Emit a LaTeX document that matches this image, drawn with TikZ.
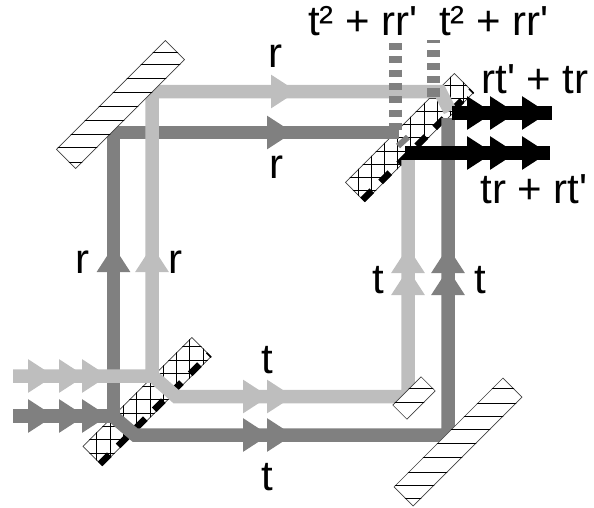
\documentclass[tikz,border=0pt]{standalone}
\usepackage{fontspec}
\newfontfamily\labelfont{Liberation Sans}
\usetikzlibrary{shapes.geometric, positioning}
\definecolor{lightbeam}{HTML}{BEBEBE}
\definecolor{darkbeam}{HTML}{808080}

\begin{document}
\begin{tikzpicture}[
    x=1pt, y=-1pt,
    plate/.style={rectangle, rotate=45, inner sep=0pt, minimum width=154pt, minimum height=27pt, draw=black!75, line width=0.6pt, fill=white},
    beam/.style={line width=13.5pt, line join=miter},
    lightray/.style={beam, draw=lightbeam},
    darkray/.style={beam, draw=darkbeam},
    blackray/.style={beam, draw=black},
    tip/.style={isosceles triangle, isosceles triangle apex angle=66, minimum height=26pt, inner sep=0pt, outer sep=0pt, anchor=lower side},
    hatch/.style={black, line width=0.8pt},
    halfsilver/.style={black, line width=6.5pt, dash pattern=on 13pt off 12.5pt},
    outbeam/.style={line width=13pt, draw=darkbeam, dash pattern=on 7pt off 6.3pt},
    lab/.style={font=\labelfont\fontsize{42}{45}\selectfont, inner sep=0pt, anchor=base}
]
\useasboundingbox (0,0) rectangle (594,507);

% Beam splitters
\node (splitin) [plate] at (147,401.5) {};
\node (splitout) [plate] at (409.5,137.5) {};
\begin{scope}
    \clip (splitin.north west) -- (splitin.north east) -- (splitin.south east) -- (splitin.south west) -- cycle;
    \foreach \i in {0,...,10} {
        \draw [hatch] (96.7+13.3*\i,330) -- (96.7+13.3*\i,470);
        \draw [hatch] (80,453-13.3*\i) -- (215,453-13.3*\i);
    }
\end{scope}
\begin{scope}
    \clip (splitout.north west) -- (splitout.north east) -- (splitout.south east) -- (splitout.south west) -- cycle;
    \foreach \i in {0,...,10} {
        \draw [hatch] (358+13.2*\i,70) -- (358+13.2*\i,205);
        \draw [hatch] (340,85+13.2*\i) -- (475,85+13.2*\i);
    }
\end{scope}
\draw [halfsilver] ([xshift=-2pt,yshift=2pt]splitin.south west) -- ([xshift=-2pt,yshift=2pt]splitin.south east);
\draw [halfsilver] ([xshift=-2pt,yshift=2pt]splitout.south west) -- ([xshift=-2pt,yshift=2pt]splitout.south east);

% Beam corners
\coordinate (darkin) at (13,416);
\coordinate (darkup) at (113.5,416);
\coordinate (darkmir) at (113.5,132.5);
\coordinate (darkend) at (399,132.5);
\coordinate (darkturn) at (115,418);
\coordinate (darkbase) at (135,435);
\coordinate (darkcorner) at (448,435);
\coordinate (darktop) at (448,118);
\coordinate (lightin) at (13,376);
\coordinate (lightup) at (152,376);
\coordinate (lightmir) at (152,91.5);
\coordinate (lightturn) at (155,378);
\coordinate (lightbase) at (176,396.5);
\coordinate (lightcorner) at (408,396.5);
\coordinate (lighttop) at (408,160);
\coordinate (lightbend) at (440,91.5);
\coordinate (lightend) at (450,111);

% Beams
\draw [darkray] (darkin) -- (darkup) -- (darkmir) -- (darkend);
\draw [darkray] (darkturn) -- (darkbase) -- (darkcorner) -- (darktop);
\draw [lightray] (lightin) -- (lightup) -- (lightmir) -- (lightbend) -- (lightend);
\draw [lightray] (lightturn) -- (lightbase) -- (lightcorner) -- (lighttop);

% Outgoing dashes
\coordinate (leftoutA) at (395,43);
\coordinate (leftoutB) at (395,131);
\coordinate (rightoutA) at (433,40);
\coordinate (rightoutB) at (433,97);
\coordinate (grayA) at (398,146);
\coordinate (grayB) at (408,137);
\coordinate (grayC) at (408.5,157);
\coordinate (grayD) at (417.5,148);
\draw [outbeam] (leftoutA) -- (leftoutB);
\draw [outbeam, dash pattern=on 3pt off 7pt on 7pt off 6pt on 7pt off 6pt on 7pt off 5pt on 9pt] (rightoutA) -- (rightoutB);
\draw [darkbeam, line width=6pt] (grayA) -- (grayB);
\draw [darkbeam, line width=6pt] (grayC) -- (grayD);

% Black outputs
\coordinate (upA) at (452,113);
\coordinate (upB) at (552,113);
\coordinate (lowA) at (405,153);
\coordinate (lowB) at (550,153);
\draw [blackray] (upA) -- (upB);
\draw [blackray] (lowA) -- (lowB);

% Arrowheads
\foreach \x in {28,59,82} {
    \node (tipl\x) [tip, fill=lightbeam] at (\x,376) {};
    \node (tipd\x) [tip, fill=darkbeam] at (\x,416) {};
}
\node (tipr1) [tip, fill=lightbeam] at (271,91.5) {};
\node (tipr2) [tip, fill=darkbeam] at (267,132.5) {};
\foreach \x in {243,267} {
    \node (tipt\x) [tip, fill=lightbeam] at (\x,396.5) {};
    \node (tipu\x) [tip, fill=darkbeam] at (\x,435) {};
}
\node (tipv1) [tip, rotate=90, fill=darkbeam] at (113.5,272) {};
\node (tipv2) [tip, rotate=90, fill=lightbeam] at (152,272) {};
\foreach \y in {295,273} {
    \node (tipw\y) [tip, rotate=90, fill=lightbeam] at (408,\y) {};
    \node (tipz\y) [tip, rotate=90, fill=darkbeam] at (448,\y) {};
}
\foreach \x in {467,490,522} {
    \node (tipa\x) [tip, fill=black] at (\x,113) {};
    \node (tipb\x) [tip, fill=black] at (\x,153) {};
}

% Mirrors
\node (mirtop) [plate] at (120.5,104.5) {};
\node (mirbot) [plate] at (458,442) {};
\node (comp) [plate, minimum width=40pt, minimum height=20pt] at (414,398) {};
\begin{scope}
    \clip (mirtop.north west) -- (mirtop.north east) -- (mirtop.south east) -- (mirtop.south west) -- cycle;
    \foreach \y in {52,64,78,92,106,120,134,147,162}
        \draw [hatch] (50,\y) -- (190,\y);
\end{scope}
\begin{scope}
    \clip (mirbot.north west) -- (mirbot.north east) -- (mirbot.south east) -- (mirbot.south west) -- cycle;
    \foreach \y in {388,403,416,429,443,457,472,485,498}
        \draw [hatch] (390,\y) -- (525,\y);
\end{scope}
\begin{scope}
    \clip (comp.north west) -- (comp.north east) -- (comp.south east) -- (comp.south west) -- cycle;
    \foreach \y in {388,402}
        \draw [hatch] (390,\y) -- (440,\y);
\end{scope}

% Labels
\node (sumA) [lab] at (363,35) {t² + rr'};
\node (sumB) [lab] at (494,35) {t² + rr'};
\node (sumC) [lab] at (535,93) {rt' + tr};
\node (sumD) [lab] at (534,203) {tr + rt'};
\node (labrA) [lab] at (275,67) {r};
\node (labrB) [lab] at (276,178) {r};
\node (labrC) [lab] at (82,273) {r};
\node (labrD) [lab] at (175,273) {r};
\node (labtA) [lab] at (378,293) {t};
\node (labtB) [lab] at (480,293) {t};
\node (labtC) [lab] at (267,373) {t};
\node (labtD) [lab] at (267,490) {t};

\end{tikzpicture}
\end{document}
